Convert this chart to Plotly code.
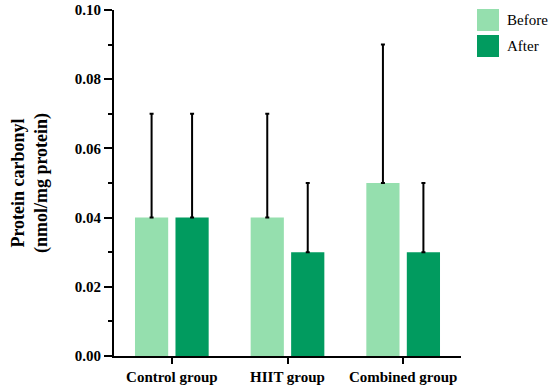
import plotly.graph_objects as go

categories = ["Control group", "HIIT group", "Combined group"]
series_names = ["Before", "After"]
before_vals = [0.04, 0.04, 0.05]
after_vals = [0.04, 0.03, 0.03]
before_err = [0.03, 0.03, 0.04]
after_err = [0.03, 0.02, 0.02]
colors = ["#95DFAE", "#019B5F"]
ytick_vals = [0.00, 0.02, 0.04, 0.06, 0.08, 0.10]
ytick_text = ["0.00", "0.02", "0.04", "0.06", "0.08", "0.10"]

FONT = "Liberation Serif"

fig = go.Figure()
for name, vals, errs, col in zip(series_names, [before_vals, after_vals],
                                 [before_err, after_err], colors):
    fig.add_trace(go.Bar(
        x=categories, y=vals, name=name, marker=dict(color=col, line=dict(width=0)),
        error_y=dict(type="data", symmetric=False, array=errs,
                     arrayminus=[0] * len(errs), color="black",
                     thickness=2, width=2),
        showlegend=False,
    ))

L, R, T, B = 114, 89, 10, 31
W, H = 550, 387
pw, ph = W - L - R, H - T - B

def px_x(px):
    return (px - L) / pw

def px_y(py):
    return (H - B - py) / ph

# custom legend
leg_boxes = [(9, 31), (35, 57)]
shapes = []
annotations = []
for name, col, (y0, y1) in zip(series_names, colors, leg_boxes):
    shapes.append(dict(type="rect", xref="paper", yref="paper",
                       x0=px_x(477), x1=px_x(499), y0=px_y(y1), y1=px_y(y0),
                       fillcolor=col, line=dict(width=0)))
    annotations.append(dict(xref="paper", yref="paper", x=px_x(505),
                            y=px_y((y0 + y1) / 2), text=name, showarrow=False,
                            xanchor="left", yanchor="middle",
                            font=dict(family=FONT, size=15, color="black")))

fig.update_layout(
    width=W, height=H,
    margin=dict(l=L, r=R, t=T, b=B, autoexpand=False),
    paper_bgcolor="white", plot_bgcolor="white",
    barmode="group", bargap=0.30, bargroupgap=0.18,
    font=dict(family=FONT, color="black"),
    shapes=shapes, annotations=annotations,
    xaxis=dict(
        range=[-0.5, 2.5], showline=True, linecolor="black", linewidth=2,
        ticks="outside", ticklen=6, tickwidth=2, tickcolor="black",
        tickfont=dict(family=FONT, size=15, color="black", weight="bold"),
        showgrid=False, zeroline=False, automargin=False,
    ),
    yaxis=dict(
        range=[0, 0.1], showline=True, linecolor="black", linewidth=2,
        tickvals=ytick_vals, ticktext=ytick_text,
        ticks="outside", ticklen=8, tickwidth=2, tickcolor="black",
        minor=dict(dtick=0.01, ticks="outside", ticklen=4, tickwidth=2, tickcolor="black"),
        tickfont=dict(family=FONT, size=15, color="black", weight="bold"),
        showgrid=False, zeroline=False, automargin=False,
        title=dict(text="Protein carbonyl<br>(nmol/mg protein)", standoff=22,
                   font=dict(family=FONT, size=18, color="black", weight="bold")),
    ),
)

fig.write_html("out.html", config={"displayModeBar": False},
               post_script="document.body.style.margin='0';")
